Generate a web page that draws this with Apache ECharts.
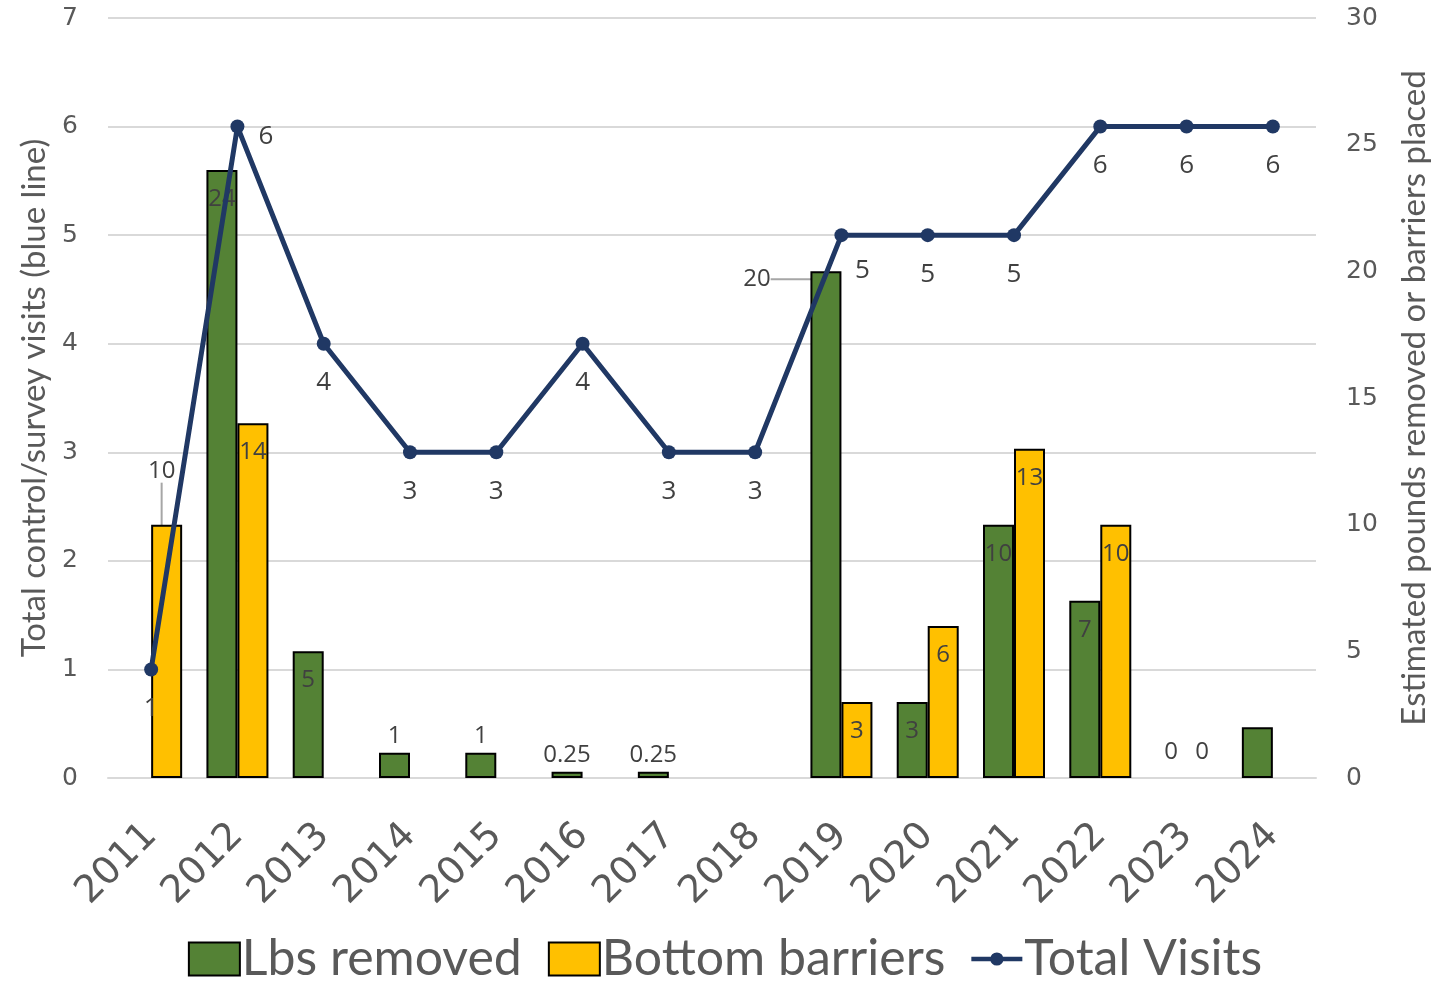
<!DOCTYPE html>
<html>
<head>
<meta charset="utf-8">
<script src="https://cdn.jsdelivr.net/npm/echarts@6/dist/echarts.min.js"></script>
<style>
html,body{margin:0;padding:0;background:#fff;}
#chart{width:1450px;height:989px;}
</style>
</head>
<body>
<div id="chart"></div>
<script>
// ---- data ----
const years = ['2011','2012','2013','2014','2015','2016','2017','2018','2019','2020','2021','2022','2023','2024'];
const lbsRemoved = [null, 24, 5, 1, 1, 0.25, 0.25, null, 20, 3, 10, 7, 0, 2];
const bottomBarriers = [10, 14, null, null, null, null, null, null, 3, 6, 13, 10, 0, null];
const totalVisits = [1, 6, 4, 3, 3, 4, 3, 3, 5, 5, 5, 6, 6, 6];
const leftTicks = [0, 1, 2, 3, 4, 5, 6, 7];
const rightTicks = [0, 5, 10, 15, 20, 25, 30];

// ---- styles ----
const GREEN = '#548235', YELLOW = '#FFC000', NAVY = '#203864';
const LBL = '#404040', AX = '#595959', GRID = '#d9d9d9';
const LABEL_FONT = 'Open Sans';
const TICK_FONT = 'DejaVu Sans';
const TITLE_FONT = 'Lato';
const LINE_ICON = 'path://M0,14.5H21V19.5H0Z M33,14.5H54V19.5H33Z M20,17A7,7 0 1,1 34,17A7,7 0 1,1 20,17Z';

function barLabel(v, i, special) {
  if (v === null) return {};
  if (special && special[i]) return special[i];
  if (v === 0) return { show: true, position: 'top', distance: 14 };
  if (v <= 1) return { show: true, position: 'top', distance: 5 };
  return { show: true, position: 'insideTop', distance: 17 };
}
const lbsSpecial = {
  8: { show: true, position: 'top', distance: 5 },
  13: { show: false }
};
const barSpecial = {
  0: { show: true, position: 'top', distance: 5 }
};
const leaderIdxLbs = [8];
const leaderIdxBar = [0];

function barItems(arr, special, leaders) {
  return arr.map((v, i) => ({
    value: v,
    label: barLabel(v, i, special),
    labelLine: { show: leaders.indexOf(i) >= 0 },
    itemStyle: v === 0 ? { borderWidth: 0 } : {}
  }));
}
const lbsData = barItems(lbsRemoved, lbsSpecial, leaderIdxLbs);
const barData = barItems(bottomBarriers, barSpecial, leaderIdxBar);
const visitData = totalVisits.map((v, i) => {
  let lab = { position: 'bottom', distance: 19 };
  if (i === 1) lab = { position: 'right', distance: 14, offset: [0, 10] };
  if (i === 8) lab = { position: 'bottom', distance: 15, offset: [21, 0] };
  return { value: v, label: lab };
});

const chart = echarts.init(document.getElementById('chart'), null, { renderer: 'canvas' });
chart.setOption({
  backgroundColor: '#fff',
  animation: false,
  grid: { left: 108, right: 134, top: 18, bottom: 211, containLabel: false, outerBoundsMode: 'none' },
  legend: {
    bottom: 0,
    left: 'center',
    itemWidth: 51,
    itemHeight: 33,
    itemGap: 26,
    textStyle: { fontFamily: TITLE_FONT, fontSize: 50, color: AX, padding: [0, 0, 0, -3] },
    data: [
      { name: 'Lbs removed', icon: 'rect' },
      { name: 'Bottom barriers', icon: 'rect' },
      { name: 'Total Visits', icon: LINE_ICON, itemStyle: { color: NAVY, borderWidth: 0 } }
    ]
  },
  xAxis: {
    type: 'category',
    data: years,
    axisTick: { show: false },
    axisLine: { lineStyle: { color: GRID, width: 2 } },
    axisLabel: { rotate: 45, fontFamily: TICK_FONT, fontSize: 38, color: AX, margin: 52, interval: 0 }
  },
  yAxis: [
    {
      type: 'value', min: leftTicks[0], max: leftTicks[leftTicks.length - 1], interval: 1,
      name: 'Total control/survey visits (blue line)',
      nameLocation: 'middle', nameGap: 56, nameRotate: 90,
      nameTextStyle: { fontFamily: TITLE_FONT, fontSize: 33, color: AX },
      axisLabel: { fontFamily: TICK_FONT, fontSize: 25, color: AX, margin: 30 },
      splitLine: { lineStyle: { color: GRID, width: 2 } },
      axisLine: { show: false }, axisTick: { show: false }
    },
    {
      type: 'value', min: rightTicks[0], max: rightTicks[rightTicks.length - 1], interval: 5,
      name: 'Estimated pounds removed or barriers placed',
      nameLocation: 'middle', nameGap: 82, nameRotate: 90,
      nameTextStyle: { fontFamily: TITLE_FONT, fontSize: 33, color: AX },
      axisLabel: { fontFamily: TICK_FONT, fontSize: 25, color: AX, margin: 30 },
      splitLine: { show: false },
      axisLine: { show: false }, axisTick: { show: false }
    }
  ],
  series: [
    {
      name: 'Lbs removed', type: 'bar', yAxisIndex: 1,
      data: lbsData, barWidth: 31, barGap: '0%',
      itemStyle: { color: GREEN, borderColor: '#000', borderWidth: 2 },
      label: { fontFamily: LABEL_FONT, fontSize: 24, color: LBL },
      labelLine: { lineStyle: { color: '#a6a6a6', width: 2 } },
      labelLayout: function (p) {
        if (p.dataIndex === 8) return { dx: -69, dy: 25 };
        return {};
      }
    },
    {
      name: 'Bottom barriers', type: 'bar', yAxisIndex: 1,
      data: barData, barWidth: 31, barGap: '0%',
      itemStyle: { color: YELLOW, borderColor: '#000', borderWidth: 2 },
      label: { fontFamily: LABEL_FONT, fontSize: 24, color: LBL },
      labelLine: { lineStyle: { color: '#a6a6a6', width: 2 } },
      labelLayout: function (p) {
        if (p.dataIndex === 0) return { dx: -5, dy: -37 };
        return {};
      }
    },
    {
      name: 'Total Visits', type: 'line', yAxisIndex: 0,
      data: visitData,
      symbol: 'circle', symbolSize: 14,
      lineStyle: { color: NAVY, width: 5 },
      itemStyle: { color: NAVY },
      label: { show: true, fontFamily: LABEL_FONT, fontSize: 26, color: LBL },
      z: 5
    }
  ]
});
</script>
</body>
</html>
